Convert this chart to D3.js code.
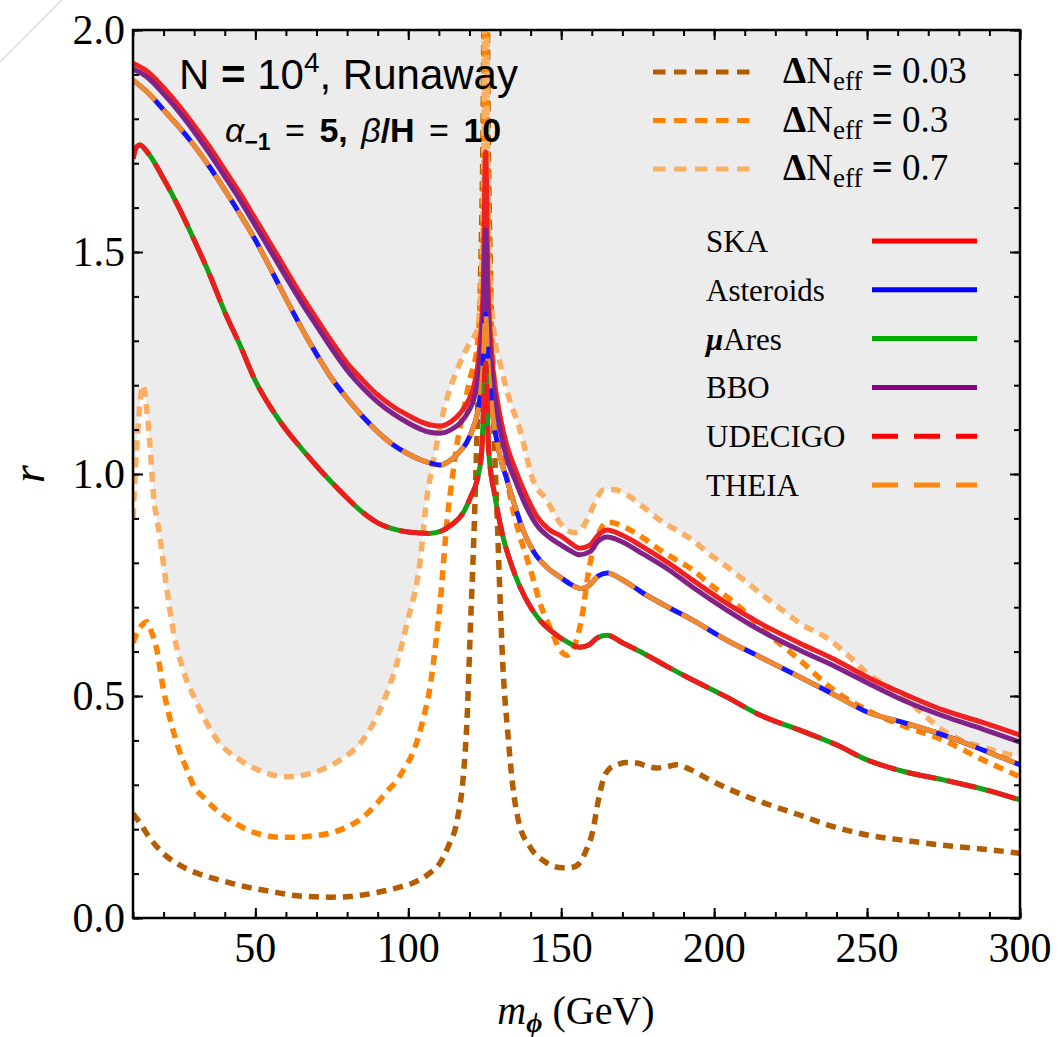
<!DOCTYPE html>
<html lang="en">
<head>
<meta charset="utf-8">
<title>r vs m_phi</title>
<script src="https://cdn.jsdelivr.net/npm/d3@7"></script>
<style>
  body { margin: 0; background: #fff; }
  svg text { fill: #000; }
  .serif { font-family: "Liberation Serif", "Times New Roman", serif; }
  .sans { font-family: "Liberation Sans", Arial, sans-serif; }
</style>
</head>
<body>
<script>
// ---- data: [m_phi (GeV), r] ----
var ska = [[10,1.925],[15,1.905],[20,1.87],[25,1.83],[30,1.785],[35,1.737],[40,1.685],[45,1.632],[50,1.575],[55,1.518],[60,1.46],[65,1.403],[70,1.35],[75,1.298],[80,1.25],[85,1.212],[90,1.178],[95,1.152],[100,1.132],[104,1.118],[107,1.111],[110.4,1.108],[114,1.118],[117,1.137],[120,1.17],[121.5,1.2],[123.4,1.29],[124.5,1.42],[125.3,1.725],[126,1.45],[127.5,1.25],[129,1.17],[132,1.07],[135,1.01],[138,0.96],[142,0.905],[146,0.875],[150,0.86],[153,0.845],[156,0.833],[159.4,0.84],[162,0.862],[165,0.874],[170,0.862],[176.7,0.836],[185,0.80],[193,0.761],[204,0.709],[215,0.664],[228,0.619],[240,0.58],[250,0.543],[262,0.505],[275,0.468],[288,0.44],[300,0.412]];
var bbo = [[10,1.912],[15,1.892],[20,1.856],[25,1.816],[30,1.771],[35,1.722],[40,1.67],[45,1.617],[50,1.56],[55,1.502],[60,1.444],[65,1.387],[70,1.334],[75,1.282],[80,1.234],[85,1.195],[90,1.162],[95,1.136],[100,1.115],[104,1.101],[107,1.094],[110.4,1.092],[114,1.10],[117,1.115],[120,1.145],[121.5,1.17],[123.4,1.25],[124.5,1.36],[125.3,1.55],[126,1.38],[127.5,1.22],[129,1.14],[132,1.04],[135,0.985],[138,0.935],[142,0.885],[146,0.858],[150,0.84],[153,0.827],[156,0.818],[159.4,0.825],[162,0.848],[165,0.858],[170,0.847],[176.7,0.82],[185,0.785],[193,0.745],[204,0.694],[215,0.648],[228,0.603],[240,0.565],[250,0.53],[262,0.49],[275,0.455],[288,0.425],[300,0.396]];
var asteroids = [[10,1.887],[15,1.858],[20,1.82],[25,1.782],[30,1.74],[35,1.692],[40,1.64],[45,1.585],[50,1.527],[55,1.462],[60,1.395],[65,1.33],[70,1.27],[75,1.215],[80,1.17],[85,1.13],[90,1.095],[95,1.066],[100,1.045],[104,1.032],[107,1.025],[110.4,1.02],[114,1.032],[117,1.052],[119,1.07],[121,1.10],[123.4,1.17],[124.5,1.25],[125.3,1.36],[126,1.26],[127.5,1.14],[130,1.04],[132.3,0.986],[135,0.925],[137.5,0.874],[141,0.825],[145.3,0.79],[149.6,0.768],[153,0.752],[156.5,0.742],[159,0.748],[162,0.77],[165,0.777],[170,0.762],[176.7,0.732],[185,0.70],[193,0.671],[204,0.626],[215,0.588],[228,0.543],[240,0.50],[250,0.464],[262,0.44],[275,0.412],[288,0.378],[300,0.345]];
var theia = asteroids; // THEIA lies on top of the Asteroids curve
var muAres = [[10,1.71],[11,1.735],[12.3,1.741],[15,1.722],[20,1.665],[25,1.6],[30,1.527],[35,1.45],[40,1.365],[45,1.29],[50,1.21],[55,1.15],[60,1.1],[65,1.058],[70,1.018],[75,0.981],[80,0.946],[85,0.914],[90,0.89],[96.3,0.874],[103.8,0.867],[107,0.866],[111,0.872],[114,0.885],[117.9,0.912],[120.5,0.95],[122.5,0.986],[124,1.05],[125.3,1.25],[126.3,1.05],[128.4,0.948],[131,0.858],[133.5,0.80],[136.5,0.746],[140,0.70],[143,0.671],[147,0.645],[151.9,0.622],[156,0.61],[159,0.615],[162,0.632],[165,0.637],[170,0.62],[176.7,0.597],[185,0.565],[193,0.536],[204,0.498],[215,0.457],[228,0.423],[240,0.39],[250,0.356],[262,0.33],[275,0.311],[288,0.29],[300,0.266]];
var udecigo = muAres; // UDECIGO lies on top of the muAres curve

var dNeff003 = [[10,0.235],[12.3,0.214],[15,0.185],[19.8,0.146],[25,0.12],[30.9,0.101],[36,0.09],[41.7,0.079],[47,0.07],[52.5,0.063],[58,0.056],[63.6,0.05],[69,0.048],[74.4,0.047],[80,0.048],[85.2,0.052],[90.8,0.059],[96.3,0.068],[101.5,0.079],[107,0.101],[110.4,0.124],[113,0.16],[116,0.221],[118,0.32],[119.2,0.446],[120.2,0.633],[121.8,0.935],[123.5,1.4],[124.6,1.9],[125.3,3.5],[126,1.9],[127,1.4],[129.3,0.858],[131,0.559],[132.5,0.42],[134.2,0.295],[136,0.22],[139.8,0.16],[144,0.13],[150.6,0.113],[154,0.115],[156,0.124],[158,0.15],[160.4,0.198],[162,0.26],[163.7,0.311],[166,0.338],[168.2,0.345],[171,0.35],[174.8,0.349],[178,0.342],[181.3,0.338],[184,0.34],[187.9,0.345],[192,0.335],[198.6,0.311],[209.4,0.277],[218,0.255],[228,0.232],[237,0.21],[250,0.187],[262,0.175],[274.8,0.164],[288,0.155],[300,0.146]];
var dNeff03 = [[10,0.62],[11.5,0.645],[13,0.66],[14.6,0.667],[16,0.645],[17.8,0.604],[19.8,0.52],[21.5,0.465],[23.1,0.423],[25,0.38],[27.7,0.333],[30,0.295],[32.9,0.273],[37,0.245],[41.7,0.221],[47,0.2],[52.5,0.187],[58,0.182],[63.6,0.182],[69,0.185],[74.4,0.191],[80,0.205],[85.2,0.227],[90,0.26],[93,0.285],[96.3,0.31],[99,0.34],[101.5,0.372],[104.8,0.446],[107.1,0.52],[109,0.62],[110.4,0.709],[112.7,0.896],[114.6,1.002],[116,1.07],[117.9,1.137],[120,1.21],[122.5,1.286],[124.2,1.5],[124.8,1.8],[125.3,3.5],[125.8,1.8],[126.4,1.5],[127.7,1.25],[130,1.10],[132.3,0.99],[134.2,0.92],[136.5,0.86],[138.8,0.81],[140.8,0.765],[143,0.71],[145.3,0.671],[147.5,0.635],[149.6,0.604],[151.9,0.592],[153.5,0.60],[155,0.626],[157,0.687],[158.7,0.77],[160.4,0.829],[162.5,0.87],[165,0.892],[168,0.888],[171.5,0.878],[177,0.855],[182.3,0.829],[188,0.805],[193,0.784],[198,0.755],[204.2,0.723],[210,0.69],[215,0.655],[222,0.615],[228,0.581],[237.9,0.52],[250,0.468],[263,0.43],[274.8,0.401],[287.9,0.356],[300,0.318]];
var dNeff07 = [[10,0.9],[10.7,1.0],[11.5,1.09],[12.3,1.16],[13.3,1.2],[14.6,1.137],[15.6,1.061],[16.5,0.97],[18.8,0.858],[21.1,0.739],[23.1,0.649],[26.4,0.559],[30.9,0.484],[37.5,0.401],[45,0.356],[52.5,0.329],[60.3,0.318],[68.8,0.327],[77.7,0.356],[85.2,0.401],[91.7,0.484],[96.3,0.574],[99.6,0.664],[103.8,0.8],[106.1,0.948],[108,1.02],[111.4,1.137],[116.9,1.25],[120.5,1.30],[122.5,1.324],[124.2,1.5],[124.8,1.8],[125.3,3.5],[125.8,1.8],[126.4,1.5],[128,1.32],[130,1.25],[133,1.17],[136.5,1.1],[140.8,0.986],[145.3,0.941],[149.6,0.89],[151.9,0.874],[154,0.868],[156,0.872],[158.4,0.896],[161,0.935],[163.7,0.964],[167,0.965],[171.5,0.953],[177,0.925],[182.3,0.896],[188,0.872],[193,0.851],[198,0.822],[204.2,0.791],[210,0.76],[215,0.732],[222,0.695],[228,0.664],[237.9,0.626],[244,0.59],[250,0.552],[257,0.52],[263,0.491],[269,0.455],[274.8,0.423],[281,0.40],[287.9,0.385],[294,0.372],[300,0.363]];

var xTicks = [50, 100, 150, 200, 250, 300];
var yTicks = [0, 0.5, 1.0, 1.5, 2.0];
var neffLabels = ["0.03", "0.3", "0.7"];
var detectorNames = ["SKA", "Asteroids", "μAres", "BBO", "UDECIGO", "THEIA"];

// ---- layout ----
var w = 1063, h = 1037;
var pLeft = 133, pRight = 1020, pTop = 30, pBottom = 918;

var svg = d3.select("body").append("svg")
    .attr("width", w)
    .attr("height", h);

var x = d3.scaleLinear().domain([10, 300]).range([pLeft, pRight]);
var y = d3.scaleLinear().domain([0, 2]).range([pBottom, pTop]);

// faint stray line in the top-left corner
svg.append("line")
    .attr("x1", 0).attr("y1", 62).attr("x2", 62).attr("y2", 0)
    .attr("stroke", "#dcdcd6").attr("stroke-width", 1.5);

svg.append("clipPath").attr("id", "plotclip")
    .append("rect")
    .attr("x", pLeft).attr("y", pTop)
    .attr("width", pRight - pLeft).attr("height", pBottom - pTop);

var plot = svg.append("g").attr("clip-path", "url(#plotclip)");

// excluded (grey) region above the dN_eff = 0.7 curve
plot.append("path")
    .datum(dNeff07)
    .attr("d", d3.area()
        .x(function (d) { return x(d[0]); })
        .y0(y(4))
        .y1(function (d) { return y(d[1]); })
        .curve(d3.curveMonotoneX))
    .attr("fill", "#ececec");

var line = d3.line()
    .x(function (d) { return x(d[0]); })
    .y(function (d) { return y(d[1]); })
    .curve(d3.curveMonotoneX);

function drawCurve(data, color, width, dash) {
    var p = plot.append("path")
        .datum(data)
        .attr("d", line)
        .attr("fill", "none")
        .attr("stroke", color)
        .attr("stroke-width", width)
        .attr("stroke-linejoin", "round");
    if (dash) p.attr("stroke-dasharray", dash);
    return p;
}

var neffColors = ["#b35c00", "#ff8200", "#fbaf63"];

drawCurve(dNeff003, neffColors[0], 5.5, "10,7");
drawCurve(dNeff03, neffColors[1], 5.5, "10,7");
drawCurve(dNeff07, neffColors[2], 5.5, "10,7");

drawCurve(ska, "#ee2222", 5);
drawCurve(bbo, "#822288", 5);
drawCurve(asteroids, "#1515ff", 5);
drawCurve(theia, "#f28a2a", 5, "30,12");
drawCurve(muAres, "#16a016", 5);
drawCurve(udecigo, "#ee1c1c", 5, "30,11");

// ---- frame and ticks ----
function tickAxis(axis, scale, values, size) {
    return axis(scale).tickValues(values).tickSize(size).tickFormat("");
}
var minorX = d3.range(10, 301, 10), minorY = d3.range(0, 2.01, 0.1);

var axes = svg.append("g").attr("class", "axes");
[[d3.axisBottom, x, pBottom, "x"], [d3.axisTop, x, pTop, "x"],
 [d3.axisLeft, y, pLeft, "y"], [d3.axisRight, y, pRight, "y"]].forEach(function (a) {
    var isX = a[3] === "x";
    var minor = isX ? minorX : minorY;
    var major = isX ? d3.range(50, 301, 50) : yTicks;
    var tr = isX ? "translate(0," + a[2] + ")" : "translate(" + a[2] + ",0)";
    axes.append("g").attr("transform", tr).call(tickAxis(a[0], a[1], minor, -6));
    axes.append("g").attr("transform", tr).call(tickAxis(a[0], a[1], major, -10));
});
axes.selectAll(".domain").remove();
axes.selectAll(".tick line").attr("stroke", "#000").attr("stroke-width", 2);

svg.append("rect")
    .attr("x", pLeft).attr("y", pTop)
    .attr("width", pRight - pLeft).attr("height", pBottom - pTop)
    .attr("fill", "none").attr("stroke", "#000").attr("stroke-width", 2.5);

// tick labels
svg.selectAll(".xlab").data(xTicks).enter().append("text")
    .attr("class", "serif")
    .attr("x", function (d) { return x(d); })
    .attr("y", 962)
    .attr("text-anchor", "middle")
    .attr("font-size", 42)
    .text(function (d) { return d; });

svg.selectAll(".ylab").data(yTicks).enter().append("text")
    .attr("class", "serif")
    .attr("x", 125)
    .attr("y", function (d) { return y(d) + 14; })
    .attr("text-anchor", "end")
    .attr("font-size", 42)
    .text(function (d) { return d.toFixed(1); });

// axis titles
svg.append("text")
    .attr("class", "serif")
    .attr("transform", "translate(44,474) rotate(-90)")
    .attr("text-anchor", "middle")
    .attr("font-size", 46)
    .attr("font-style", "italic")
    .text("r");

var xt = svg.append("text")
    .attr("class", "serif")
    .attr("x", 576).attr("y", 1024)
    .attr("text-anchor", "middle")
    .attr("font-size", 40);
xt.append("tspan").attr("font-style", "italic").text("m");
xt.append("tspan").attr("font-style", "italic").attr("font-weight", "bold")
    .attr("font-size", 28).attr("dy", 8).text("ϕ");
xt.append("tspan").attr("dy", -8).text(" (GeV)");

// ---- annotation ----
var t1 = svg.append("text")
    .attr("class", "sans")
    .attr("x", 179).attr("y", 89)
    .attr("font-size", 42);
t1.append("tspan").text("N ");
t1.append("tspan").attr("font-weight", "bold").text("=");
t1.append("tspan").text(" 10");
t1.append("tspan").attr("font-size", 28).attr("dy", -17).text("4");
t1.append("tspan").attr("dy", 17).text(", Runaway");

var t2 = svg.append("text")
    .attr("class", "sans")
    .attr("x", 225).attr("y", 142)
    .attr("font-size", 34);
t2.append("tspan").attr("font-style", "italic").text("α");
t2.append("tspan").attr("font-weight", "bold").attr("font-size", 23).attr("dy", 8).text("−1");
t2.append("tspan").attr("dy", -8).attr("dx", 5).text(" = ");
t2.append("tspan").attr("dx", 5).attr("font-weight", "bold").text("5, ");
t2.append("tspan").attr("dx", 4).attr("font-style", "italic").text("β");
t2.append("tspan").attr("font-weight", "bold").text("/H");
t2.append("tspan").attr("dx", 5).text(" = ");
t2.append("tspan").attr("dx", 5).attr("font-weight", "bold").text("10");

// ---- legend: dN_eff ----
neffLabels.forEach(function (lab, i) {
    var by = 83 + i * 48.5;
    svg.append("line")
        .attr("x1", 653).attr("x2", 753)
        .attr("y1", by - 11).attr("y2", by - 11)
        .attr("stroke", neffColors[i]).attr("stroke-width", 5)
        .attr("stroke-dasharray", "12.5,8.5");
    var t = svg.append("text")
        .attr("class", "serif")
        .attr("x", 783).attr("y", by)
        .attr("font-size", 37);
    t.append("tspan").attr("font-weight", "bold").text("Δ");
    t.append("tspan").text("N");
    t.append("tspan").attr("font-size", 27).attr("dy", 7).text("eff");
    t.append("tspan").attr("dy", -7).attr("font-weight", "bold").text(" = ");
    t.append("tspan").text(lab);
});

// ---- legend: detectors ----
var detColors = ["#ff0000", "#0000ff", "#00aa00", "#880088", "#ff0000", "#ff8810"];
var detDash = [null, null, null, null, "26,16", "26,16"];
detectorNames.forEach(function (name, i) {
    var by = 252 + i * 48.8;
    svg.append("line")
        .attr("x1", 872).attr("x2", 977)
        .attr("y1", by - 11).attr("y2", by - 11)
        .attr("stroke", detColors[i]).attr("stroke-width", 5)
        .attr("stroke-dasharray", detDash[i]);
    var t = svg.append("text")
        .attr("class", "serif")
        .attr("x", 706).attr("y", by)
        .attr("font-size", 31);
    if (name === "μAres") {
        t.append("tspan").attr("font-style", "italic").attr("font-weight", "bold").text("μ");
        t.append("tspan").text("Ares");
    } else {
        t.text(name);
    }
});
</script>
</body>
</html>
